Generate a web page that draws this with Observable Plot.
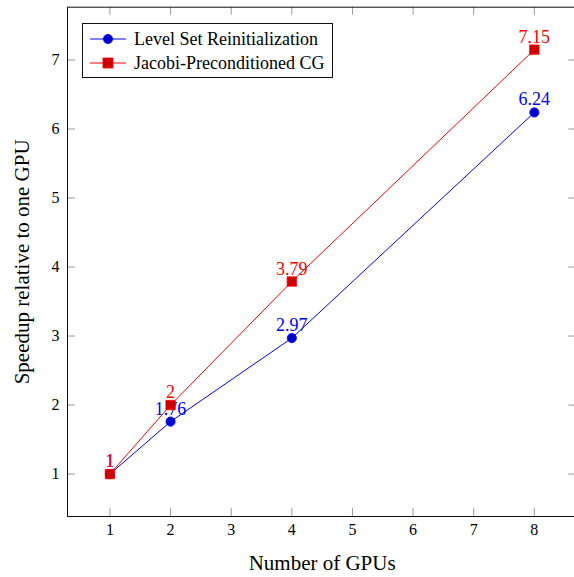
<!DOCTYPE html>
<html>
<head>
<meta charset="utf-8">
<script src="https://cdn.jsdelivr.net/npm/d3@7"></script>
<script src="https://cdn.jsdelivr.net/npm/@observablehq/plot@0.6"></script>
<style>
  html, body { margin: 0; padding: 0; background: white; overflow: hidden; }
  #wrap { position: relative; width: 574px; height: 577px; font-family: "Liberation Serif", "DejaVu Serif", serif; }
  #wrap svg text { font-family: "Liberation Serif", "DejaVu Serif", serif; }
  #legend { position: absolute; left: 82px; top: 23px; width: 249px; height: 53px; border: 1px solid #111; background: white; }
  .row { position: absolute; left: 0; height: 24px; display: flex; align-items: center; font-size: 18px; color: black; white-space: nowrap; }
  .row svg { display: block; margin-left: 7px; margin-right: 8px; }
</style>
</head>
<body>
<div id="wrap"></div>
<script>
const gpus = [1, 2, 4, 8];
const levelSet = [1, 1.76, 2.97, 6.24];
const jacobi = [1, 2, 3.79, 7.15];
const seriesNames = ["Level Set Reinitialization", "Jacobi-Preconditioned CG"];
const xTicks = [1, 2, 3, 4, 5, 6, 7, 8];
const yTicks = [1, 2, 3, 4, 5, 6, 7];
const xLabel = "Number of GPUs";
const yLabel = "Speedup relative to one GPU";

const blueRows = gpus.map((g, i) => ({gpus: g, speedup: levelSet[i], series: seriesNames[0]}));
const redRows = gpus.map((g, i) => ({gpus: g, speedup: jacobi[i], series: seriesNames[1]}));

const FONT = "Liberation Serif";
const W = 574, H = 577;
const mL = 67, mR = -2.3, mT = 6.7, mB = 61;
const innerW = W - mL - mR, innerH = H - mT - mB;
const tick = 8;

const chart = Plot.plot({
  width: W, height: H,
  marginLeft: mL, marginRight: mR, marginTop: mT, marginBottom: mB,
  x: {domain: [0.3, 8.7]},
  y: {domain: [0.385, 7.765]},
  style: {fontFamily: FONT, fontSize: "16px", color: "black", background: "white"},
  marks: [
    Plot.tickX(xTicks, {x: d => d, insetTop: innerH - tick, stroke: "#999", strokeWidth: 1}),
    Plot.tickX(xTicks, {x: d => d, insetBottom: innerH - tick, stroke: "#999", strokeWidth: 1}),
    Plot.tickY(yTicks, {y: d => d, insetRight: innerW - tick, stroke: "#999", strokeWidth: 1}),
    Plot.tickY(yTicks, {y: d => d, insetLeft: innerW - tick, stroke: "#999", strokeWidth: 1}),
    Plot.axisX({ticks: xTicks, tickFormat: d => String(d), tickSize: 0, tickPadding: 7.6, label: null, fontSize: 16, fontFamily: FONT}),
    Plot.axisY({ticks: yTicks, tickFormat: d => String(d), tickSize: 0, tickPadding: 8, label: null, fontSize: 16, fontFamily: FONT}),
    Plot.frame({stroke: "#111", strokeWidth: 1}),
    Plot.line(blueRows, {x: "gpus", y: "speedup", stroke: "#0000ff", strokeWidth: 1}),
    Plot.dot(blueRows, {x: "gpus", y: "speedup", r: 4.6, fill: "#0000cc", stroke: "#0000ff", strokeWidth: 0.8}),
    Plot.text(blueRows, {x: "gpus", y: "speedup", text: d => String(d.speedup), dy: -7, lineAnchor: "bottom", fill: "#0000ff", fontSize: 18, fontFamily: FONT}),
    Plot.line(redRows, {x: "gpus", y: "speedup", stroke: "#ff0000", strokeWidth: 1}),
    Plot.dot(redRows, {x: "gpus", y: "speedup", symbol: "square", r: 5.3, fill: "#cc0000", stroke: "#ff0000", strokeWidth: 0.8}),
    Plot.text(redRows, {x: "gpus", y: "speedup", text: d => String(d.speedup), dy: -7, lineAnchor: "bottom", fill: "#ff0000", fontSize: 18, fontFamily: FONT}),
    Plot.text([xLabel], {frameAnchor: "bottom", textAnchor: "middle", dy: 53, lineAnchor: "bottom", fontSize: 21, fill: "black", fontFamily: FONT}),
    Plot.text([yLabel], {frameAnchor: "left", textAnchor: "middle", dx: -39, rotate: -90, lineAnchor: "bottom", fontSize: 21, fill: "black", fontFamily: FONT})
  ]
});

const wrap = document.getElementById("wrap");
wrap.appendChild(chart);

// Legend (HTML overlay)
const legend = document.createElement("div");
legend.id = "legend";
const legendItems = [
  {name: seriesNames[0], stroke: "#0000ff", fill: "#0000cc", symbol: "circle"},
  {name: seriesNames[1], stroke: "#ff0000", fill: "#cc0000", symbol: "square"}
];
legendItems.forEach((it, i) => {
  const row = document.createElement("div");
  row.className = "row";
  row.style.top = (3 + i * 24) + "px";
  const sw = it.symbol === "circle"
    ? `<circle cx="18" cy="8" r="4.6" fill="${it.fill}" stroke="${it.stroke}" stroke-width="0.8"/>`
    : `<rect x="13" y="3" width="10" height="10" fill="${it.fill}" stroke="${it.stroke}" stroke-width="0.8"/>`;
  row.innerHTML = `<svg width="36" height="16"><line x1="0" y1="8" x2="36" y2="8" stroke="${it.stroke}" stroke-width="1"/>${sw}</svg><span>${it.name}</span>`;
  legend.appendChild(row);
});
wrap.appendChild(legend);
</script>
</body>
</html>
